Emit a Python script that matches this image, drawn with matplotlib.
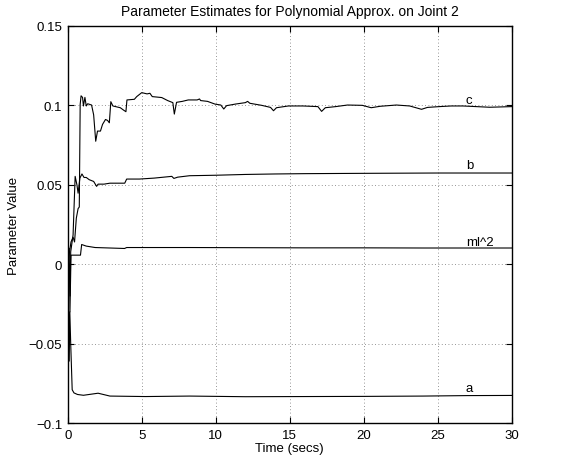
import numpy as np
import matplotlib.pyplot as plt

plt.rcParams['font.family'] = ['Liberation Sans', 'DejaVu Sans']
plt.rcParams['font.size'] = 9.5

# parameter estimate traces
t_a = [0, 0.06, 0.1, 0.14, 0.2, 0.3, 0.42, 0.66, 1.06, 2.05, 2.85, 5.24, 8.23, 12, 16, 20, 24, 27, 30]
a = [0, -0.03, -0.061, -0.03, -0.05, -0.079, -0.081, -0.082, -0.0825, -0.0812, -0.083, -0.0833, -0.083,
     -0.0834, -0.0833, -0.0832, -0.083, -0.0827, -0.0826]

t_ml2 = [0, 0.05, 0.1, 0.15, 0.22, 0.86, 0.94, 1.25, 1.85, 3.84, 3.98, 8.23, 12, 16, 20, 24, 30]
ml2 = [0, 0.01, 0.01, -0.03, 0.0057, 0.0057, 0.0124, 0.0114, 0.0105, 0.0099, 0.0105, 0.0105,
       0.0104, 0.0103, 0.0103, 0.0102, 0.0102]

t_b = [0, 0.1, 0.16, 0.2, 0.36, 0.5, 0.62, 0.7, 0.82, 0.96, 1.1, 1.25, 1.45, 1.75, 1.95, 2.05, 2.45,
       2.85, 3.85, 3.98, 4.84, 5.84, 7.03, 7.17, 7.43, 8.23, 10, 12, 14, 16, 18, 20, 25, 30]
b = [0, 0.0, -0.02, 0.0078, 0.0184, 0.0553, 0.05, 0.0447, 0.0542, 0.0568, 0.0546, 0.0546, 0.0532,
     0.0521, 0.049, 0.0504, 0.0504, 0.051, 0.051, 0.0536, 0.0536, 0.0542, 0.0553, 0.054, 0.0548, 0.0557,
     0.056, 0.0565, 0.0568, 0.057, 0.0571, 0.0572, 0.0574, 0.0574]

t_c = [0, 0.06, 0.22, 0.36, 0.46, 0.58, 0.7, 0.78, 0.84, 0.9, 1.0, 1.06, 1.16, 1.25, 1.35, 1.61, 1.75,
       1.89, 2.01, 2.21, 2.35, 2.55, 2.69, 2.81, 2.91, 3.05, 3.55, 3.77, 3.93, 4.0, 4.5, 4.66, 5.0,
       5.36, 5.55, 5.71, 6.35, 6.75, 7.1, 7.2, 7.35, 7.74, 8.14, 8.74, 8.9, 8.98, 9.44, 9.94, 10.34,
       10.54, 10.73, 11.33, 12.0, 12.15, 12.3, 13.1, 13.7, 13.9, 14.1, 14.9, 15.9, 16.9, 17.15, 17.4,
       18.1, 18.9, 19.9, 20.5, 21.1, 22.2, 23.1, 23.9, 24.3, 25.1, 25.9, 26.7, 27.6, 28.5, 30]
c = [0, 0.004, 0.014, 0.017, 0.014, 0.029, 0.035, 0.036, 0.1006, 0.106, 0.105, 0.0996, 0.105, 0.0996,
     0.101, 0.1002, 0.094, 0.0774, 0.0838, 0.0838, 0.088, 0.0911, 0.0905, 0.089, 0.1023, 0.0996,
     0.0985, 0.097, 0.096, 0.1034, 0.1038, 0.1055, 0.108, 0.1072, 0.1076, 0.1055, 0.1049, 0.103,
     0.1017, 0.0945, 0.1019, 0.1025, 0.1034, 0.1034, 0.104, 0.103, 0.1025, 0.1008, 0.1002, 0.0977,
     0.0998, 0.1008, 0.1017, 0.1025, 0.1013, 0.1, 0.0987, 0.0966, 0.0985, 0.0996, 0.0996, 0.0992,
     0.0962, 0.0985, 0.0992, 0.1002, 0.1, 0.0985, 0.0994, 0.1002, 0.0996, 0.0975, 0.0987, 0.0992,
     0.0996, 0.0996, 0.0992, 0.0988, 0.0992]

names = ['c', 'b', 'ml^2', 'a']
label_y = [0.1034, 0.0622, 0.0139, -0.078]
label_x = 26.9

fig = plt.figure(figsize=(5.79, 4.56), dpi=100)
ax = fig.add_axes([0.117, 0.070, 0.767, 0.871])

for tt, yy in [(t_a, a), (t_ml2, ml2), (t_b, b), (t_c, c)]:
    ax.plot(tt, yy, color='k', lw=0.8)

for nm, ly in zip(names, label_y):
    ax.text(label_x, ly, nm, va='center', ha='left')

ax.set_xlim(0, 30)
ax.set_ylim(-0.1, 0.15)
ax.set_xticks([0, 5, 10, 15, 20, 25, 30])
ax.set_yticks([-0.1, -0.05, 0, 0.05, 0.1, 0.15])
ax.set_yticklabels(['\u22120.1', '\u22120.05', '0', '0.05', '0.1', '0.15'])
ax.grid(True, linestyle=(0, (1, 3)), color='0.45', lw=0.6)
ax.tick_params(direction='in', top=True, right=True, length=4, width=0.8, pad=4)
for s in ax.spines.values():
    s.set_linewidth(1.0)

ax.set_title('Parameter Estimates for Polynomial Approx. on Joint 2', fontsize=10, pad=8)
ax.set_xlabel('Time (secs)', labelpad=1)
ax.set_ylabel('Parameter Value', labelpad=6)

fig.savefig('out.png', dpi=100)
